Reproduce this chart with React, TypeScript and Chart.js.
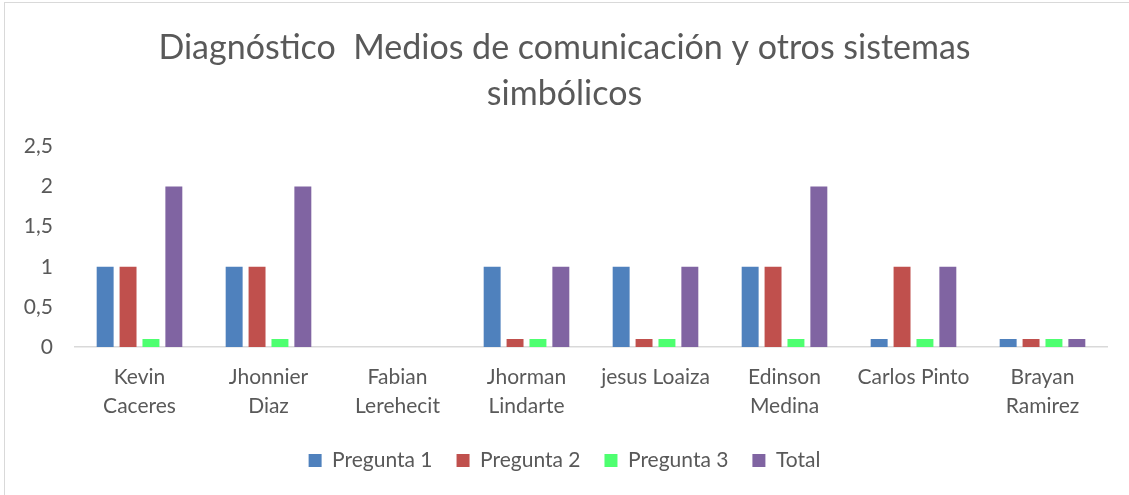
import React, { useEffect, useRef } from "react";
import { Chart, registerables } from "chart.js";

Chart.register(...registerables);

const categories: (string | string[])[] = [
  ["Kevin", "Caceres"],
  ["Jhonnier", "Diaz"],
  ["Fabian", "Lerehecit"],
  ["Jhorman", "Lindarte"],
  "jesus Loaiza",
  ["Edinson", "Medina"],
  "Carlos Pinto",
  ["Brayan", "Ramirez"],
];
const pregunta1 = [1, 1, 0, 1, 1, 1, 0.1, 0.1];
const pregunta2 = [1, 1, 0, 0.1, 0.1, 1, 1, 0.1];
const pregunta3 = [0.1, 0.1, 0, 0.1, 0.1, 0.1, 0.1, 0.1];
const total = [2, 2, 0, 1, 1, 2, 1, 0.1];
const titleLines = ["Diagnóstico  Medios de comunicación y otros sistemas", "simbólicos"];

const FONT = "Lato, 'Open Sans', sans-serif";
const TEXT = "#595959";

export default function App() {
  const ref = useRef<HTMLCanvasElement | null>(null);
  useEffect(() => {
    if (!ref.current) return;
    const chart = new Chart(ref.current, {
      type: "bar",
      data: {
        labels: categories,
        datasets: [
          { label: "Pregunta 1", data: pregunta1, backgroundColor: "#4F81BD" },
          { label: "Pregunta 2", data: pregunta2, backgroundColor: "#C0504D" },
          { label: "Pregunta 3", data: pregunta3, backgroundColor: "#4EFF70" },
          { label: "Total", data: total, backgroundColor: "#8064A2" },
        ],
      },
      options: {
        responsive: false,
        animation: false,
        datasets: { bar: { categoryPercentage: 0.71, barPercentage: 0.74 } },
        layout: { padding: { left: 22, right: 22, top: 0, bottom: 14 } },
        plugins: {
          tooltip: { enabled: false },
          title: {
            display: true,
            text: titleLines,
            color: TEXT,
            font: { family: FONT, size: 34, weight: "normal", lineHeight: 1.36 },
            padding: { top: 25, bottom: 29 },
          },
          legend: {
            position: "bottom",
            labels: {
              color: TEXT,
              font: { family: FONT, size: 21 },
              boxWidth: 13,
              boxHeight: 13,
              padding: 24,
            },
          },
        },
        scales: {
          x: {
            grid: { display: false, drawTicks: false },
            border: { display: true, color: "#D9D9D9", width: 1.5 },
            ticks: {
              color: TEXT,
              font: { family: FONT, size: 21, lineHeight: 1.38 },
              padding: 16,
              maxRotation: 0,
              autoSkip: false,
            },
            afterFit: (s: any) => {
              s.height = 79;
            },
          },
          y: {
            min: 0,
            max: 2.5,
            grid: { display: false, drawTicks: false },
            border: { display: false },
            ticks: {
              stepSize: 0.5,
              color: TEXT,
              font: { family: FONT, size: 21 },
              padding: 22,
              callback: (v: any) => String(v).replace(".", ","),
            },
            afterFit: (s: any) => {
              s.width = 53;
            },
          },
        },
      },
    });
    return () => chart.destroy();
  }, []);
  return (
    <div style={{ position: "fixed", left: 0, top: 0, width: 1129, height: 495, background: "#fff", overflow: "hidden" }}>
      <div
        style={{
          position: "absolute",
          left: 4,
          top: 2,
          width: 1150,
          height: 520,
          border: "1px solid #D9D9D9",
          boxSizing: "border-box",
        }}
      />
      <canvas ref={ref} width={1129} height={495} style={{ position: "absolute", left: 0, top: 0 }} />
    </div>
  );
}
